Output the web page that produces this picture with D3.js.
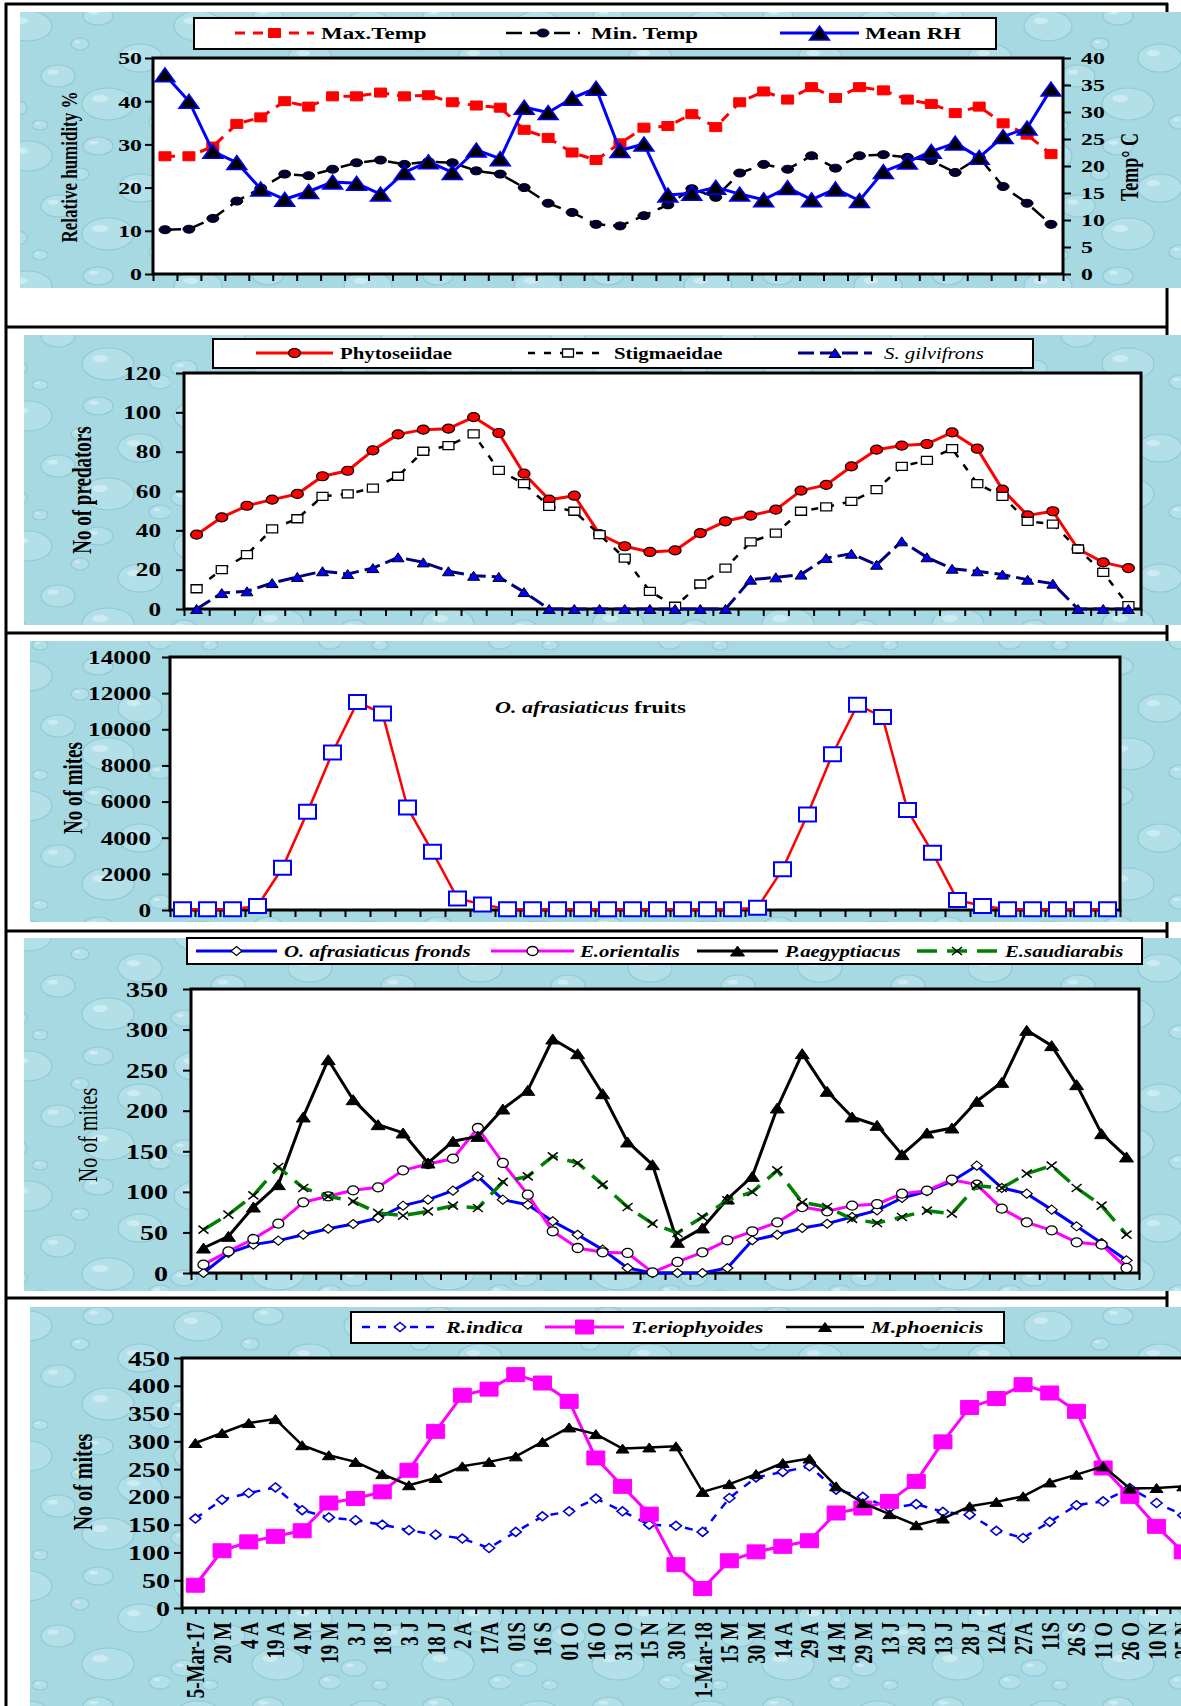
<!DOCTYPE html>
<html>
<head>
<meta charset="utf-8">
<script src="https://cdn.jsdelivr.net/npm/d3@7"></script>
<style>
  body { margin: 0; background: #fff; }
  svg text { font-family: "Liberation Serif", "Times New Roman", serif; font-weight: bold; fill: #000; }
</style>
</head>
<body>
<svg id="chart" width="1181" height="1706"></svg>
<script>
// sampling dates (fortnightly, Mar 2017 - Nov 2018)
var dates = ["5-Mar-17", "20 M", "4 A", "19 A", "4 M", "19 M", "3 J", "18 J", "3 J", "18 J",
             "2 A", "17A", "01S", "16 S", "01 O", "16 O", "31 O", "15 N", "30 N", "1-Mar-18",
             "15 M", "30 M", "14 A", "29 A", "14 M", "29 M", "13 J", "28 J", "13 J", "28 J",
             "12A", "27A", "11S", "26 S", "11 O", "26 O", "10 N", "25 N"];

// panel 1 - weather
var maxTemp = [21.8, 21.8, 23.6, 27.8, 29.0, 32.0, 31.0, 32.9, 32.9, 33.6, 32.9, 33.1, 31.8, 31.2, 30.8, 26.7, 25.2, 22.5, 21.1,
               24.2, 27.1, 27.4, 29.6, 27.2, 31.8, 33.8, 32.3, 34.6, 32.6, 34.6, 34.0, 32.3, 31.5, 29.8, 31.0, 27.9, 25.8, 22.2];
var minTemp = [8.2, 8.3, 10.3, 13.5, 15.9, 18.5, 18.2, 19.4, 20.6, 21.1, 20.3, 20.8, 20.6, 19.1, 18.5, 16.0, 13.1, 11.4, 9.2,
               8.9, 10.8, 12.8, 15.8, 14.2, 18.7, 20.3, 19.4, 21.9, 19.6, 21.9, 22.1, 21.6, 21.0, 18.8, 21.6, 16.2, 13.1, 9.2];
var meanRH = [46.1, 40.0, 28.4, 25.8, 19.7, 17.3, 19.1, 21.3, 21.0, 18.5, 23.5, 26.0, 23.5, 28.7, 26.7, 38.6, 37.4, 40.7, 43.0,
              28.6, 30.1, 18.3, 18.7, 20.1, 18.5, 17.2, 20.0, 17.2, 19.7, 17.0, 23.7, 25.9, 28.4, 30.3, 27.0, 31.8, 33.8, 42.8];
var rhTicks = [0, 10, 20, 30, 40, 50];
var tempTicks = [0, 5, 10, 15, 20, 25, 30, 35, 40];

// panel 2 - predators
var phytoseiidae = [37.8, 46.6, 52.5, 55.6, 58.5, 67.5, 70.3, 80.7, 88.8, 91.2, 91.7, 97.6, 89.5, 68.8, 55.6, 57.6, 38.1, 31.9, 29.0,
                    29.8, 38.6, 44.6, 47.5, 50.5, 60.2, 63.1, 72.5, 81.0, 83.1, 83.9, 89.8, 81.5, 60.7, 47.6, 49.7, 30.5, 23.7, 20.8];
var stigmaeidae = [10.3, 20.0, 27.6, 40.7, 45.9, 57.3, 58.5, 61.5, 67.5, 80.2, 83.1, 89.0, 70.5, 63.7, 52.2, 49.7, 37.8, 25.9, 9.0,
                   1.4, 12.7, 20.8, 34.1, 38.6, 49.7, 51.9, 54.7, 60.7, 72.5, 75.6, 81.5, 63.7, 57.3, 44.6, 43.2, 30.5, 18.6, 1.7];
var gilvifrons = [0, 8.1, 9.0, 13.2, 16.3, 19.2, 17.8, 20.8, 26.3, 23.7, 19.2, 16.9, 16.3, 8.6, 0, 0, 0, 0, 0,
                  0, 0, 0, 14.9, 16.1, 17.5, 25.9, 28.1, 22.5, 34.4, 26.3, 20.5, 19.2, 17.5, 14.9, 12.9, 0, 0, 0];
var predTicks = [0, 20, 40, 60, 80, 100, 120];

// panel 3 - O. afrasiaticus on fruits
var fruits = [40, 40, 40, 220, 2340, 5430, 8710, 11510, 10870, 5670, 3220, 640, 310, 40, 40, 40, 40, 40, 40,
              40, 40, 40, 40, 130, 2250, 5290, 8620, 11360, 10680, 5530, 3170, 550, 220, 40, 40, 40, 40, 40];
var fruitTicks = [0, 2000, 4000, 6000, 8000, 10000, 12000, 14000];

// panel 4 - mites on fronds
var fronds = [0, 24.7, 34.9, 39.9, 47.2, 54.6, 60.4, 67.8, 83.0, 90.4, 101.5, 119.1, 90.4, 84.2, 63.7, 47.2, 28.8, 6.2, 0,
              0, 0, 6.2, 40.3, 47.2, 55.5, 60.8, 69.0, 77.2, 92.4, 100.7, 113.0, 132.3, 104.8, 97.8, 78.1, 57.5, 37.0, 15.6];
var orientalis = [10.3, 26.7, 41.9, 60.8, 87.1, 94.5, 101.9, 105.6, 126.5, 134.3, 140.9, 178.7, 135.6, 96.5, 51.4, 30.8, 25.5, 24.7, 0.8,
                  13.6, 25.5, 40.3, 51.4, 62.4, 81.3, 76.0, 83.0, 85.0, 97.8, 101.5, 115.0, 108.9, 79.3, 62.4, 52.6, 37.8, 34.9, 6.2];
var aegyptiacus = [30.8, 45.2, 81.3, 108.9, 192.3, 262.9, 213.6, 182.8, 172.6, 135.6, 162.3, 168.4, 202.1, 225.1, 288.4, 270.3, 221, 161.5, 133.5,
                   37.8, 55.5, 91.2, 119.1, 203.4, 270.3, 223.9, 192.3, 182.0, 145.9, 172.6, 178.7, 211.6, 235, 299.1, 280.2, 232.1, 171.7, 143.0];
var saudiarabis = [53.4, 71.9, 95.7, 130.6, 104.8, 94.5, 88.3, 74.0, 70.7, 76.0, 83.0, 80.1, 112.2, 119.1, 143.8, 135.6, 108.9, 81.3, 60.8,
                   49.3, 69.0, 89.6, 99.8, 126.5, 87.1, 81.3, 66.6, 61.6, 69.0, 76.8, 73.1, 107.6, 104.8, 122.4, 132.3, 104.8, 83.0, 47.2];
var frondTicks = [0, 50, 100, 150, 200, 250, 300, 350];

// panel 5 - other mites
var indica = [161, 195, 207, 217, 176, 163, 158, 150, 140, 132, 125, 108, 137, 165, 174, 197, 174, 150, 148,
              137, 198, 235, 245, 255, 213, 200, 180, 187, 173, 168, 139, 126, 155, 185, 192, 216, 189, 167];
var eriophyoides = [41, 103, 119, 129, 139, 189, 197, 209, 248, 318, 383, 394, 420, 405, 372, 270, 219, 169, 78,
                    35, 85, 101, 111, 121, 171, 180, 192, 228, 299, 361, 377, 402, 387, 354, 252, 201, 147, 101];
var phoenicis = [297, 315, 333, 340, 293, 275, 263, 241, 221, 234, 255, 263, 273, 299, 325, 313, 287, 289, 291,
                 209, 223, 241, 261, 269, 219, 189, 169, 149, 161, 183, 191, 201, 226, 240, 255, 215, 216, 219];
var miteTicks = [0, 50, 100, 150, 200, 250, 300, 350, 400, 450];

var svg = d3.select('#chart');
var SX = 1.4;   // the original figure is stretched sideways, text too

// ---------- helpers ----------
function label(g, x, y, str, o) {
  o = o || {};
  var t = g.append('text')
    .attr('transform', 'translate(' + x + ',' + y + ') scale(' + (o.sx || SX) + ',1)' + (o.rotate ? ' rotate(' + o.rotate + ')' : ''))
    .attr('text-anchor', o.anchor || 'start')
    .attr('dy', '0.35em')
    .style('font-size', (o.size || 17) + 'px');
  if (o.italic) t.style('font-style', 'italic');
  if (o.weight) t.style('font-weight', o.weight);
  t.text(str);
  return t;
}

function shape(type, w, h) {
  var a = w / 2, b = h / 2;
  if (type == 'square') return 'M' + (-a) + ',' + (-b) + 'H' + a + 'V' + b + 'H' + (-a) + 'Z';
  if (type == 'triangle') return 'M0,' + (-b) + 'L' + a + ',' + b + 'H' + (-a) + 'Z';
  if (type == 'diamond') return 'M0,' + (-b) + 'L' + a + ',0L0,' + b + 'L' + (-a) + ',0Z';
  if (type == 'circle') return 'M' + (-a) + ',0A' + a + ',' + b + ' 0 1,0 ' + a + ',0A' + a + ',' + b + ' 0 1,0 ' + (-a) + ',0Z';
  return 'M' + (-a) + ',' + (-b) + 'L' + a + ',' + b + 'M' + a + ',' + (-b) + 'L' + (-a) + ',' + b;
}

function drawSeries(g, x, y, s) {
  var cx = function(i) { return x(i) + x.bandwidth() / 2; };
  var line = d3.line()
               .x(function(d, i) { return cx(i); })
               .y(function(d) { return y(d); });
  g.append('path').datum(s.values)
    .attr('d', line)
    .attr('fill', 'none')
    .attr('stroke', s.color)
    .attr('stroke-width', s.width)
    .attr('stroke-dasharray', s.dash || null)
    .attr('stroke-linejoin', 'round');
  g.append('g').selectAll('path').data(s.values).enter().append('path')
    .attr('transform', function(d, i) { return 'translate(' + cx(i) + ',' + y(d) + ')'; })
    .attr('d', shape(s.marker, s.mw, s.mh))
    .attr('fill', s.fill)
    .attr('stroke', s.stroke)
    .attr('stroke-width', s.sw);
}

function legendItem(g, x0, x1, cy, tx, s, name, o) {
  g.append('line').attr('x1', x0).attr('x2', x1).attr('y1', cy).attr('y2', cy)
    .attr('stroke', s.color).attr('stroke-width', s.width)
    .attr('stroke-dasharray', s.dash || null);
  g.append('path').attr('transform', 'translate(' + ((x0 + x1) / 2) + ',' + cy + ')')
    .attr('d', shape(s.marker, s.mw, s.mh))
    .attr('fill', s.fill).attr('stroke', s.stroke).attr('stroke-width', s.sw);
  label(g, tx, cy, name, o);
}

function box(g, x0, y0, x1, y1, sw) {
  g.append('rect').attr('x', x0).attr('y', y0).attr('width', x1 - x0).attr('height', y1 - y0)
    .attr('fill', '#fff').attr('stroke', '#000').attr('stroke-width', sw);
}

function yAxis(g, scale, ticks, side, xPos, size, off) {
  var ax = (side == 'left' ? d3.axisLeft(scale) : d3.axisRight(scale))
             .tickValues(ticks).tickSize(8).tickSizeOuter(0).tickFormat(d3.format('d'));
  var a = g.append('g').attr('transform', 'translate(' + xPos + ',0)').call(ax);
  a.select('.domain').remove();
  a.selectAll('line').attr('stroke', '#000').attr('stroke-width', 2);
  a.selectAll('text')
    .attr('x', 0).attr('dy', '0.35em')
    .attr('transform', 'translate(' + (side == 'left' ? -off : off) + ',0) scale(' + SX + ',1)')
    .style('font-size', size + 'px');
}

function xTicks(g, x0, x1, y, step, len) {
  var xl = d3.scaleLinear().domain([0, 38]).range([x0, x1]);
  var a = g.append('g').attr('transform', 'translate(0,' + y + ')')
    .call(d3.axisBottom(xl).tickValues(d3.range(0, 38.01, step)).tickSize(len).tickFormat(''));
  a.select('.domain').remove();
  a.selectAll('line').attr('stroke', '#000').attr('stroke-width', 2);
}

// ---------- background: page frame and water-drop panels ----------
var defs = svg.append('defs');
var pat = defs.append('pattern').attr('id', 'drops')
  .attr('patternUnits', 'userSpaceOnUse').attr('width', 170).attr('height', 130);
pat.append('rect').attr('width', 170).attr('height', 130).attr('fill', '#a6d9e2');
var drops = [[28, 26, 24, 15], [98, 16, 15, 9], [140, 58, 22, 14], [58, 76, 17, 11], [14, 108, 13, 8],
             [108, 104, 26, 16], [160, 122, 11, 7], [80, 44, 9, 6], [40, 125, 8, 5]];
drops.forEach(function(d) {
  pat.append('ellipse').attr('cx', d[0]).attr('cy', d[1]).attr('rx', d[2]).attr('ry', d[3])
    .attr('fill', '#b3e0e8').attr('stroke', '#90cad6').attr('stroke-width', 1.2);
  pat.append('ellipse').attr('cx', d[0] - d[2] * 0.3).attr('cy', d[1] - d[3] * 0.35)
    .attr('rx', d[2] * 0.3).attr('ry', d[3] * 0.22).attr('fill', '#e2f5f8').attr('opacity', 0.55);
});

var frame = svg.append('g').attr('stroke', '#000').attr('stroke-width', 3);
[4, 327, 633, 931, 1298].forEach(function(y) {
  frame.append('line').attr('x1', 5).attr('x2', 1168).attr('y1', y).attr('y2', y);
});
[6, 1167].forEach(function(x) {
  frame.append('line').attr('x1', x).attr('x2', x).attr('y1', 3).attr('y2', 1706);
});

var bgs = [[20, 12, 288], [24, 335, 625], [30, 641, 922], [24, 938, 1291], [30, 1307, 1706]];
bgs.forEach(function(b) {
  svg.append('rect').attr('x', b[0]).attr('y', b[1]).attr('width', 1181 - b[0]).attr('height', b[2] - b[1])
    .attr('fill', 'url(#drops)');
});

// ---------- panel 1: temperature and relative humidity ----------
var g1 = svg.append('g');
var x1 = d3.scaleBand().domain(d3.range(38)).range([153, 1063]);
var yRH = d3.scaleLinear().domain([0, 50]).range([274, 58]);
var yT = d3.scaleLinear().domain([0, 40]).range([274, 58]);

var sMax = {values: maxTemp, color: '#ff0000', width: 3, dash: '10,8', marker: 'square', mw: 12, mh: 9, fill: '#ff0000', stroke: '#ff0000', sw: 1};
var sMin = {values: minTemp, color: '#000', width: 2.5, dash: '16,8', marker: 'circle', mw: 12, mh: 8, fill: '#000033', stroke: '#000', sw: 1};
var sRH = {values: meanRH, color: '#0000ff', width: 3, marker: 'triangle', mw: 20, mh: 14, fill: '#000', stroke: '#0000ff', sw: 1.5};

box(g1, 194, 18, 996, 49, 2);
legendItem(g1, 235, 314, 33, 321, sMax, 'Max.Temp', {size: 17, sx: 1.35});
legendItem(g1, 506, 580, 33, 591, sMin, 'Min. Temp', {size: 17, sx: 1.35});
legendItem(g1, 780, 859, 33, 865, sRH, 'Mean RH', {size: 17, sx: 1.35});

box(g1, 153, 58, 1063, 274, 3);
yAxis(g1, yRH, rhTicks, 'left', 153, 17, 11);
yAxis(g1, yT, tempTicks, 'right', 1063, 17, 18);
xTicks(g1, 153, 1063, 274, 1, 7);
drawSeries(g1, x1, yT, sMax);
drawSeries(g1, x1, yT, sMin);
drawSeries(g1, x1, yRH, sRH);
label(g1, 69, 167, 'Relative humidity %', {size: 17, anchor: 'middle', rotate: -90});
label(g1, 1129, 167, 'Temp\u00b0 C', {size: 18, anchor: 'middle', rotate: -90});

// ---------- panel 2: predators ----------
var g2 = svg.append('g');
var x2 = d3.scaleBand().domain(d3.range(38)).range([184, 1141]);
var y2 = d3.scaleLinear().domain([0, 120]).range([609, 373]);

var sPhy = {values: phytoseiidae, color: '#ff0000', width: 3, marker: 'circle', mw: 12, mh: 9, fill: '#ff0000', stroke: '#000', sw: 1.2};
var sSti = {values: stigmaeidae, color: '#000', width: 2.5, dash: '7,9', marker: 'square', mw: 11, mh: 8, fill: '#fff', stroke: '#000', sw: 1.3};
var sGil = {values: gilvifrons, color: '#000080', width: 3, dash: '16,6', marker: 'triangle', mw: 12, mh: 9, fill: '#0000ff', stroke: '#000', sw: 1};

box(g2, 213, 339, 1033, 368, 2);
legendItem(g2, 256, 333, 353, 340, sPhy, 'Phytoseiidae', {size: 16, sx: 1.3});
legendItem(g2, 528, 608, 353, 614, sSti, 'Stigmaeidae', {size: 16, sx: 1.3});
legendItem(g2, 798, 872, 353, 884, sGil, 'S. gilvifrons', {size: 16, sx: 1.3, italic: true, weight: 'normal'});

box(g2, 184, 373, 1141, 609, 3);
yAxis(g2, y2, predTicks, 'left', 184, 18, 23);
xTicks(g2, 184, 1141, 609, 1, 7);
drawSeries(g2, x2, y2, sPhy);
drawSeries(g2, x2, y2, sSti);
drawSeries(g2, x2, y2, sGil);
label(g2, 82, 490, 'No of predators', {size: 19, anchor: 'middle', rotate: -90});

// ---------- panel 3: O. afrasiaticus on fruits ----------
var g3 = svg.append('g');
var x3 = d3.scaleBand().domain(d3.range(38)).range([170, 1120]);
var y3 = d3.scaleLinear().domain([0, 14000]).range([910, 657]);
var sFru = {values: fruits, color: '#ff0000', width: 2.5, marker: 'square', mw: 17, mh: 14, fill: '#fff', stroke: '#0000ff', sw: 2};

box(g3, 170, 657, 1120, 910, 3);
yAxis(g3, y3, fruitTicks, 'left', 170, 18, 19);
xTicks(g3, 170, 1120, 910, 1, 7);
drawSeries(g3, x3, y3, sFru);
label(g3, 73, 788, 'No of mites', {size: 19, anchor: 'middle', rotate: -90});
var tt = label(g3, 495, 707, '', {size: 17, sx: 1.3});
tt.append('tspan').style('font-style', 'italic').text('O. afrasiaticus');
tt.append('tspan').text(' fruits');

// ---------- panel 4: mites on fronds ----------
var g4 = svg.append('g');
var x4 = d3.scaleBand().domain(d3.range(38)).range([191, 1139]);
var y4 = d3.scaleLinear().domain([0, 350]).range([1273, 989]);

var sFro = {values: fronds, color: '#0000ff', width: 3, marker: 'diamond', mw: 11, mh: 9, fill: '#fff', stroke: '#000', sw: 1.2};
var sOri = {values: orientalis, color: '#ff00ff', width: 3, marker: 'circle', mw: 11, mh: 9, fill: '#fff', stroke: '#000', sw: 1.3};
var sAeg = {values: aegyptiacus, color: '#000', width: 3, marker: 'triangle', mw: 14, mh: 10, fill: '#000', stroke: '#000', sw: 1};
var sSau = {values: saudiarabis, color: '#008000', width: 3.5, dash: '20,10', marker: 'cross', mw: 10, mh: 8, fill: 'none', stroke: '#000', sw: 1.5};

box(g4, 187, 938, 1142, 964, 2);
legendItem(g4, 196, 277, 951, 284, sFro, 'O. afrasiaticus fronds', {size: 16, sx: 1.3, italic: true});
legendItem(g4, 491, 574, 951, 580, sOri, 'E.orientalis', {size: 16, sx: 1.3, italic: true});
legendItem(g4, 697, 778, 951, 785, sAeg, 'P.aegyptiacus', {size: 16, sx: 1.3, italic: true});
legendItem(g4, 917, 997, 951, 1005, sSau, 'E.saudiarabis', {size: 16, sx: 1.3, italic: true});

box(g4, 191, 989, 1139, 1273, 3);
yAxis(g4, y4, frondTicks, 'left', 191, 20, 23);
xTicks(g4, 191, 1139, 1273, 1, 7);
drawSeries(g4, x4, y4, sFro);
drawSeries(g4, x4, y4, sOri);
drawSeries(g4, x4, y4, sAeg);
drawSeries(g4, x4, y4, sSau);
label(g4, 87, 1135, 'No of mites', {size: 20, anchor: 'middle', rotate: -90, weight: 'normal'});

// ---------- panel 5: other mites ----------
var g5 = svg.append('g');
var x5 = d3.scaleBand().domain(d3.range(38)).range([182, 1196.6]);
var y5 = d3.scaleLinear().domain([0, 450]).range([1608, 1358]);

var sInd = {values: indica, color: '#0000ff', width: 2.5, dash: '8,8', marker: 'diamond', mw: 11, mh: 9, fill: '#fff', stroke: '#0000cc', sw: 1.6};
var sEri = {values: eriophyoides, color: '#ff00ff', width: 3, marker: 'square', mw: 18, mh: 14, fill: '#ff00ff', stroke: '#ff00ff', sw: 1};
var sPho = {values: phoenicis, color: '#000', width: 2.5, marker: 'triangle', mw: 13, mh: 9, fill: '#000', stroke: '#000', sw: 1};

box(g5, 351, 1312, 1004, 1343, 2);
legendItem(g5, 362, 438, 1327, 446, sInd, 'R.indica', {size: 17, sx: 1.3, italic: true});
legendItem(g5, 545, 624, 1327, 631, sEri, 'T.eriophyoides', {size: 17, sx: 1.3, italic: true});
legendItem(g5, 786, 864, 1327, 871, sPho, 'M.phoenicis', {size: 17, sx: 1.3, italic: true});

box(g5, 182, 1358, 1196.6, 1608, 3);
yAxis(g5, y5, miteTicks, 'left', 182, 20, 12);
xTicks(g5, 182, 1196.6, 1608, 0.5, 6);
drawSeries(g5, x5, y5, sInd);
drawSeries(g5, x5, y5, sEri);
drawSeries(g5, x5, y5, sPho);
label(g5, 82, 1482, 'No of mites', {size: 20, anchor: 'middle', rotate: -90});

// date labels under the last panel
var xa = g5.append('g').attr('transform', 'translate(0,1608)')
  .call(d3.axisBottom(x5).tickSize(0).tickFormat(function(i) { return dates[i]; }));
xa.select('.domain').remove();
xa.selectAll('text')
  .attr('x', 0).attr('y', 0).attr('dy', '0.35em')
  .attr('text-anchor', 'end')
  .attr('transform', 'translate(0,14) scale(1.35,1) rotate(-90)')
  .style('font-size', '19px');
</script>
</body>
</html>
